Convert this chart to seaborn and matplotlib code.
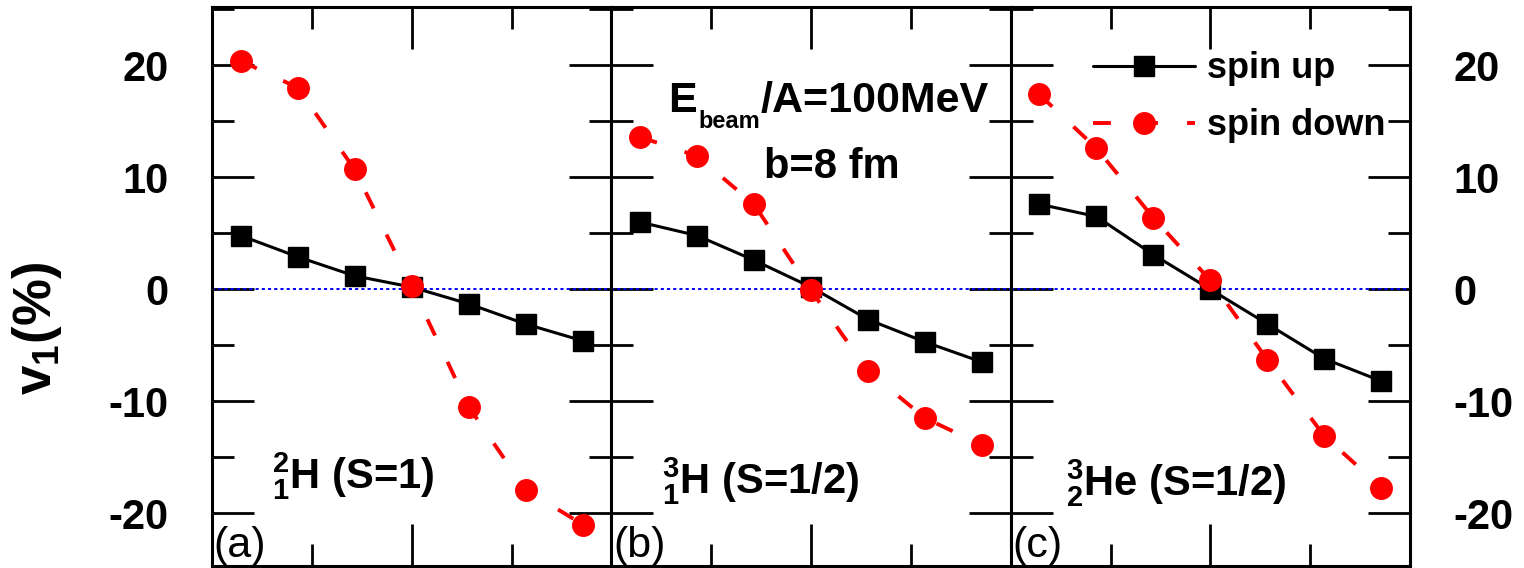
import matplotlib
matplotlib.use("Agg")
import matplotlib.pyplot as plt
import seaborn as sns
from matplotlib.ticker import MultipleLocator, FixedLocator

# ---------------- data ----------------
rapidity = [-0.857, -0.571, -0.286, 0.0, 0.286, 0.571, 0.857]
panel_tags = ["(a)", "(b)", "(c)"]
panel_names = [r"$^{2}_{1}$H (S=1)", r"$^{3}_{1}$H (S=1/2)", r"$^{3}_{2}$He (S=1/2)"]
spin_up_a = [4.8, 2.9, 1.2, 0.2, -1.3, -3.1, -4.6]
spin_down_a = [20.4, 18.0, 10.7, 0.3, -10.5, -17.9, -21.0]
spin_up_b = [6.0, 4.8, 2.6, 0.2, -2.7, -4.7, -6.5]
spin_down_b = [13.6, 11.9, 7.6, -0.1, -7.3, -11.5, -13.9]
spin_up_c = [7.6, 6.5, 3.1, 0.0, -3.1, -6.2, -8.2]
spin_down_c = [17.4, 12.6, 6.4, 0.8, -6.3, -13.1, -17.7]
y_ticks = [-20, -10, 0, 10, 20]
legend_labels = ["spin up", "spin down"]
beam_parts = ["E", "beam", "/A=100MeV"]
impact_text = "b=8 fm"
y_label = r"v$_1$(%)"

spin_up = [spin_up_a, spin_up_b, spin_up_c]
spin_down = [spin_down_a, spin_down_b, spin_down_c]

# ---------------- style ----------------
sns.set_style("ticks")
plt.rcParams["font.family"] = ["Liberation Sans", "DejaVu Sans"]
plt.rcParams["font.weight"] = "bold"
plt.rcParams["mathtext.default"] = "regular"
plt.rcParams["axes.unicode_minus"] = False
for k in ["text.color", "axes.labelcolor", "xtick.color", "ytick.color",
          "axes.edgecolor"]:
    plt.rcParams[k] = "black"

fig = plt.figure(figsize=(15.24, 5.68), dpi=100)
L, R = 212 / 1524, 1410 / 1524
B, T = 2 / 568, 1 - 7 / 568
gs = fig.add_gridspec(1, 3, left=L, right=R, bottom=B, top=T, wspace=0)
axes = [fig.add_subplot(gs[0, i]) for i in range(3)]

handles = None
for i, ax in enumerate(axes):
    ax.axhline(0, color="#0000ff", lw=1.4, ls=(0, (1.6, 1.6)), zorder=1)
    sns.lineplot(x=rapidity, y=spin_up[i], ax=ax, color="black", lw=2.2,
                 marker="s", markersize=14.5, markeredgewidth=1,
                 markeredgecolor="black", sort=False, errorbar=None, zorder=3)
    sns.lineplot(x=rapidity, y=spin_down[i], ax=ax, color="#ff0000", lw=2.8,
                 linestyle=(0, (4.6, 7.5)), marker="o", markersize=15.5,
                 markeredgewidth=1, markeredgecolor="#ff0000", sort=False,
                 errorbar=None, zorder=4)
    if ax.get_legend() is not None:
        ax.get_legend().remove()
    if i == 2:
        handles = [ax.lines[-2], ax.lines[-1]]

    ax.set_xlim(-1, 1)
    ax.set_ylim(-24.7, 25.2)
    ax.xaxis.set_major_locator(FixedLocator([0.0]))
    ax.xaxis.set_minor_locator(FixedLocator([-0.5, 0.5]))
    ax.yaxis.set_major_locator(FixedLocator(y_ticks))
    ax.yaxis.set_minor_locator(MultipleLocator(5))
    ax.set_xlabel("")
    ax.set_ylabel("")
    for s in ax.spines.values():
        s.set_linewidth(2.2)
        s.set_color("black")
    ax.tick_params(which="both", direction="in", top=True, bottom=True,
                   left=True, right=True, labelbottom=False, width=2,
                   color="black", labelcolor="black")
    ax.tick_params(which="major", length=30)
    ax.tick_params(which="minor", length=16)
    ax.tick_params(axis="y", labelsize=30, pad=31,
                   labelleft=(i == 0), labelright=(i == 2))

    ax.text(0.004, 0.0, panel_tags[i], transform=ax.transAxes, fontsize=31,
            fontweight="normal", ha="left", va="bottom")

axes[0].text(0.151, 0.138, panel_names[0], transform=axes[0].transAxes,
             fontsize=30, ha="left", va="baseline")
axes[1].text(0.126, 0.129, panel_names[1], transform=axes[1].transAxes,
             fontsize=30, ha="left", va="baseline")
axes[2].text(0.139, 0.127, panel_names[2], transform=axes[2].transAxes,
             fontsize=30, ha="left", va="baseline")

# E_beam/A=100MeV built from chained texts (subscript sits low, as in the original)
t_e = axes[1].text(0.143, 0.812, beam_parts[0], transform=axes[1].transAxes,
                   fontsize=31, ha="left", va="baseline")
t_sub = axes[1].annotate(beam_parts[1], xy=(1, 0), xycoords=t_e,
                         xytext=(1, -5), textcoords="offset points",
                         fontsize=17, ha="left", va="baseline")
axes[1].annotate(beam_parts[2], xy=(1, 0), xycoords=(t_sub, t_e),
                 xytext=(0, 0), textcoords="offset points",
                 fontsize=31, ha="left", va="bottom")
axes[1].text(0.382, 0.694, impact_text, transform=axes[1].transAxes,
             fontsize=30, ha="left", va="baseline")

axes[2].legend(handles, legend_labels, loc="upper left",
               bbox_to_anchor=(0.206, 0.921), frameon=False, borderpad=0,
               borderaxespad=0, handlelength=2.82, handletextpad=0.33,
               labelspacing=0.61, fontsize=26, numpoints=1)

fig.text(37 / 1524, 1 - 328 / 568, y_label, rotation=90, fontsize=38,
         ha="center", va="center", fontweight="bold")

fig.savefig("out.png", dpi=100)
